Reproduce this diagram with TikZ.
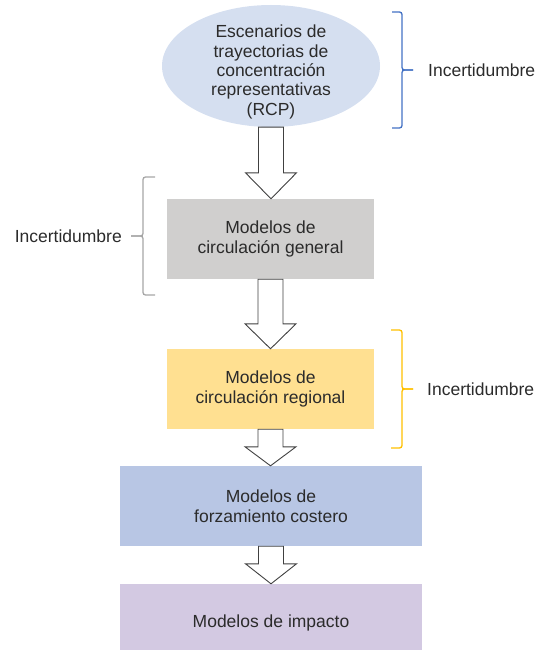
\documentclass[tikz,border=0pt]{standalone}
\usepackage{fontspec}
\setmainfont{Liberation Sans}
\usetikzlibrary{shapes.geometric,calc}
\definecolor{txt}{HTML}{2B2B2B}
\definecolor{ellfill}{HTML}{D5DFF0}
\definecolor{grayfill}{HTML}{D0CFCE}
\definecolor{yelfill}{HTML}{FFE091}
\definecolor{bluefill}{HTML}{B8C6E4}
\definecolor{purfill}{HTML}{D3C9E2}
\definecolor{braceblue}{HTML}{4472C4}
\definecolor{bracegray}{HTML}{A6A6A6}
\definecolor{braceyel}{HTML}{FFC000}
\tikzset{
  lbl/.style={text=txt, font=\fontsize{17.5}{20}\selectfont, align=center, inner sep=0pt},
  stagebox/.style={lbl, draw=none, minimum height=80pt},
  blockarrow/.style={draw=black!75, fill=white, line width=0.9pt, line join=miter},
  bracket/.style={line width=1.3pt, rounded corners=2.5pt},
}
% hollow block arrow from the bottom of #1 to the top of #2, head length #3
\newcommand\hollowarrow[3]{%
  \draw[blockarrow] let \p1=(#1.south), \p2=(#2.north) in
    (\x1-12.5pt,\y1) -- (\x1-12.5pt,\y2+#3pt) -- (\x1-25.5pt,\y2+#3pt) --
    (\x1,\y2) -- (\x1+25.5pt,\y2+#3pt) -- (\x1+12.5pt,\y2+#3pt) --
    (\x1+12.5pt,\y1) -- cycle;}
\begin{document}
\begin{tikzpicture}[x=1pt,y=-1pt]
\useasboundingbox (0,0) rectangle (538,650);

% stages
\node[ellipse, fill=ellfill, minimum width=218pt, minimum height=122pt]
  (rcp) at (271,66) {};
\node[lbl, font=\fontsize{17.5}{19.4}\selectfont] (rcptext) at (271,72)
  {Escenarios de\\trayectorias de\\concentración\\representativas\\(RCP)};
\node[stagebox, fill=grayfill, minimum width=207pt] (mcg) at (270.5,239)
  {Modelos de\\circulación general};
\node[stagebox, fill=yelfill, minimum width=207pt] (mcr) at (270.5,389)
  {Modelos de\\circulación regional};
\node[stagebox, fill=bluefill, minimum width=302pt] (mfc) at (271,506)
  {Modelos de\\forzamiento costero};
\node[stagebox, fill=purfill, minimum width=302pt, minimum height=78pt] (mim) at (271,623)
  {Modelos de impacto};

% flow arrows
\hollowarrow{rcp}{mcg}{26}
\hollowarrow{mcg}{mcr}{25}
\hollowarrow{mcr}{mfc}{19}
\hollowarrow{mfc}{mim}{20}

% uncertainty brackets
\coordinate (b1) at (413,70);
\draw[bracket, braceblue] (392,12) -- (402,12) -- (402,70) -- (b1);
\draw[bracket, braceblue] (b1) -- (402,70) -- (402,128) -- (392,128);
\node[lbl, anchor=west] (u1) at ($(b1)+(15,0)$) {Incertidumbre};

\coordinate (b2) at (131,236);
\draw[bracket, bracegray] (155,177) -- (143,177) -- (143,236) -- (b2);
\draw[bracket, bracegray] (b2) -- (143,236) -- (143,295) -- (155,295);
\node[lbl, anchor=east] (u2) at ($(b2)+(-9,0)$) {Incertidumbre};

\coordinate (b3) at (413,389);
\draw[bracket, braceyel] (391,330) -- (402,330) -- (402,389) -- (b3);
\draw[bracket, braceyel] (b3) -- (402,389) -- (402,448) -- (391,448);
\node[lbl, anchor=west] (u3) at ($(b3)+(14,0)$) {Incertidumbre};
\end{tikzpicture}
\end{document}
